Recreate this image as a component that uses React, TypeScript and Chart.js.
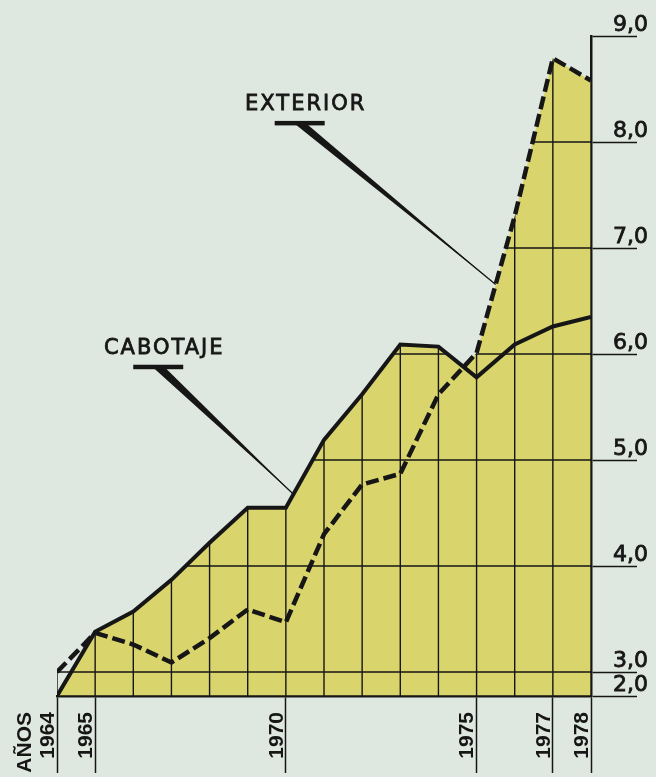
import React, { useEffect, useRef } from 'react';
import { Chart, registerables, LinearScale } from 'chart.js';

// ---------- data ----------
const YEARS = [1964, 1965, 1966, 1967, 1968, 1969, 1970, 1971, 1972, 1973, 1974, 1975, 1976, 1977, 1978];
const CABOTAJE = [2.0, 3.38, 3.57, 3.87, 4.22, 4.55, 4.55, 5.19, 5.62, 6.09, 6.07, 5.78, 6.09, 6.26, 6.35];
const EXTERIOR = [3.0, 3.37, 3.26, 3.09, 3.32, 3.59, 3.47, 4.3, 4.77, 4.87, 5.62, 6.01, 7.3, 8.79, 8.58];
const X_LABELED_YEARS = [1964, 1965, 1970, 1975, 1977, 1978];
const Y_TICKS = [2, 3, 4, 5, 6, 7, 8, 9];
const AXIS_WORD = 'AÑOS';
const AXIS_WORD_POS = 1963.4;
const SERIES_NAMES = ['CABOTAJE', 'EXTERIOR'];

// ---------- style ----------
const BG = '#dfe8e0';
const YELLOW = '#d9d46b';
const INK = '#161616';
const BREAK_AT = 3;
const BREAK_RATIO = 0.226;

class BrokenLinearScale extends LinearScale {
  static id = 'brokenLinear';
  static defaults = LinearScale.defaults;
  _eff(v: number) {
    return v < BREAK_AT ? BREAK_AT - (BREAK_AT - v) * BREAK_RATIO : v;
  }
  getPixelForValue(value: any) {
    if (value === null || value === undefined || isNaN(value)) return NaN;
    const lo = this._eff(this.min);
    const hi = this._eff(this.max);
    return this.getPixelForDecimal((this._eff(+value) - lo) / (hi - lo));
  }
  getValueForPixel(pixel: number) {
    const lo = this._eff(this.min);
    const hi = this._eff(this.max);
    const e = lo + this.getDecimalForPixel(pixel) * (hi - lo);
    return e < BREAK_AT ? BREAK_AT - (BREAK_AT - e) / BREAK_RATIO : e;
  }
}

Chart.register(...registerables, BrokenLinearScale as any);

const CALLOUTS = [
  { text: SERIES_NAMES[1], dataset: 1, segment: 11, t: 0.5, labelYear: 1968.93, labelValue: 8.35 },
  { text: SERIES_NAMES[0], dataset: 0, segment: 6, t: 0.2, labelYear: 1965.23, labelValue: 6.05 },
];

const clippedGrid = {
  id: 'clippedGrid',
  beforeDatasetsDraw(chart: any) {
    const { ctx, chartArea, scales } = chart;
    ctx.save();
    ctx.beginPath();
    chart.data.datasets.forEach((_: any, i: number) => {
      const pts = chart.getDatasetMeta(i).data;
      ctx.moveTo(pts[0].x, chartArea.bottom);
      pts.forEach((p: any) => ctx.lineTo(p.x, p.y));
      ctx.lineTo(pts[pts.length - 1].x, chartArea.bottom);
      ctx.closePath();
    });
    ctx.clip();
    ctx.strokeStyle = INK;
    ctx.lineWidth = 1.4;
    ctx.beginPath();
    scales.x.ticks.forEach((t: any) => {
      if (t.value < YEARS[0]) return;
      const px = scales.x.getPixelForValue(t.value);
      ctx.moveTo(px, chartArea.top);
      ctx.lineTo(px, chartArea.bottom);
    });
    scales.y.ticks.forEach((t: any) => {
      const py = scales.y.getPixelForValue(t.value);
      ctx.moveTo(chartArea.left, py);
      ctx.lineTo(chartArea.right, py);
    });
    ctx.stroke();
    ctx.restore();
  },
};

const callouts = {
  id: 'seriesCallouts',
  afterDatasetsDraw(chart: any) {
    const { ctx, scales } = chart;
    CALLOUTS.forEach((c) => {
      const pts = chart.getDatasetMeta(c.dataset).data;
      const a = pts[c.segment];
      const b = pts[c.segment + 1];
      const tipX = a.x + (b.x - a.x) * c.t;
      const tipY = a.y + (b.y - a.y) * c.t;
      const left = scales.x.getPixelForValue(c.labelYear);
      const midY = scales.y.getPixelForValue(c.labelValue);
      ctx.save();
      ctx.font = '21px "DejaVu Sans"';
      (ctx as any).letterSpacing = '2px';
      ctx.fillStyle = INK;
      ctx.strokeStyle = INK;
      ctx.textBaseline = 'middle';
      ctx.textAlign = 'left';
      ctx.lineWidth = 0.8;
      ctx.fillText(c.text, left, midY);
      ctx.strokeText(c.text, left, midY);
      const w = ctx.measureText(c.text).width;
      const bx = left + w / 2 - 6;
      const by = midY + 18;
      ctx.fillRect(bx - 25, by - 2, 50, 4.5);
      ctx.beginPath();
      ctx.moveTo(bx - 6, by);
      ctx.lineTo(bx + 6, by);
      ctx.lineTo(tipX, tipY);
      ctx.closePath();
      ctx.fill();
      ctx.lineWidth = 1.3;
      ctx.beginPath();
      ctx.moveTo(bx, by);
      ctx.lineTo(tipX, tipY);
      ctx.stroke();
      ctx.restore();
    });
  },
};

export default function App() {
  const ref = useRef<HTMLCanvasElement>(null);
  useEffect(() => {
    document.body.style.margin = '0';
    document.body.style.background = BG;
    const chart = new Chart(ref.current as HTMLCanvasElement, {
      type: 'line',
      data: {
        datasets: [
          {
            label: SERIES_NAMES[0],
            data: YEARS.map((x, i) => ({ x, y: CABOTAJE[i] })),
            borderColor: INK,
            borderWidth: 4,
            borderJoinStyle: 'miter',
            backgroundColor: YELLOW,
            fill: 'origin',
            pointRadius: 0,
            tension: 0,
          },
          {
            label: SERIES_NAMES[1],
            data: YEARS.map((x, i) => ({ x, y: EXTERIOR[i] })),
            borderColor: INK,
            borderWidth: 4.5,
            borderDash: [13, 5],
            borderJoinStyle: 'miter',
            backgroundColor: YELLOW,
            fill: 'origin',
            pointRadius: 0,
            tension: 0,
            segment: {
              backgroundColor: (c: any) => (c.p0DataIndex === 0 ? 'rgba(0,0,0,0)' : YELLOW),
            },
          },
        ] as any,
      },
      options: {
        responsive: false,
        animation: false,
        layout: { padding: { left: 57, top: 36, right: 0, bottom: 0 } },
        plugins: {
          legend: { display: false },
          tooltip: { enabled: false },
          filler: { drawTime: 'beforeDatasetsDraw' } as any,
        },
        scales: {
          x: {
            type: 'linear',
            min: YEARS[0],
            max: YEARS[YEARS.length - 1],
            afterBuildTicks: (s: any) => {
              s.ticks = [{ value: AXIS_WORD_POS }, ...YEARS.map((v) => ({ value: v }))];
            },
            afterFit: (s: any) => {
              s.height = 81;
            },
            grid: {
              drawOnChartArea: false,
              drawTicks: true,
              tickLength: 77,
              tickWidth: 1.5,
              tickColor: (c: any) =>
                c.tick && X_LABELED_YEARS.includes(c.tick.value) ? INK : 'rgba(0,0,0,0)',
            },
            border: { display: true, color: INK, width: 2.5 },
            ticks: {
              autoSkip: false,
              minRotation: 90,
              maxRotation: 90,
              padding: -61,
              labelOffset: -9,
              color: INK,
              font: { family: 'Liberation Sans', weight: 'bold', size: 21 },
              callback: (v: any) =>
                v === AXIS_WORD_POS ? AXIS_WORD : X_LABELED_YEARS.includes(v) ? String(v) : '',
            },
          },
          y: {
            type: 'brokenLinear' as any,
            position: 'right',
            min: Y_TICKS[0],
            max: Y_TICKS[Y_TICKS.length - 1],
            afterBuildTicks: (s: any) => {
              s.ticks = Y_TICKS.map((v) => ({ value: v }));
            },
            afterFit: (s: any) => {
              s.width = 65;
            },
            grid: {
              drawOnChartArea: false,
              drawTicks: true,
              tickLength: 46,
              tickWidth: 1.5,
              tickColor: INK,
            },
            border: { display: true, color: INK, width: 2.5 },
            ticks: {
              autoSkip: false,
              padding: -24,
              labelOffset: -11,
              color: INK,
              textStrokeColor: INK,
              textStrokeWidth: 0.8,
              font: { family: 'DejaVu Sans', size: 22 },
              callback: (v: any) => Number(v).toFixed(1).replace('.', ','),
            },
          } as any,
        },
      },
      plugins: [clippedGrid, callouts],
    } as any);
    return () => chart.destroy();
  }, []);
  return (
    <canvas
      ref={ref}
      width={656}
      height={777}
      style={{ display: 'block', background: BG }}
    />
  );
}
